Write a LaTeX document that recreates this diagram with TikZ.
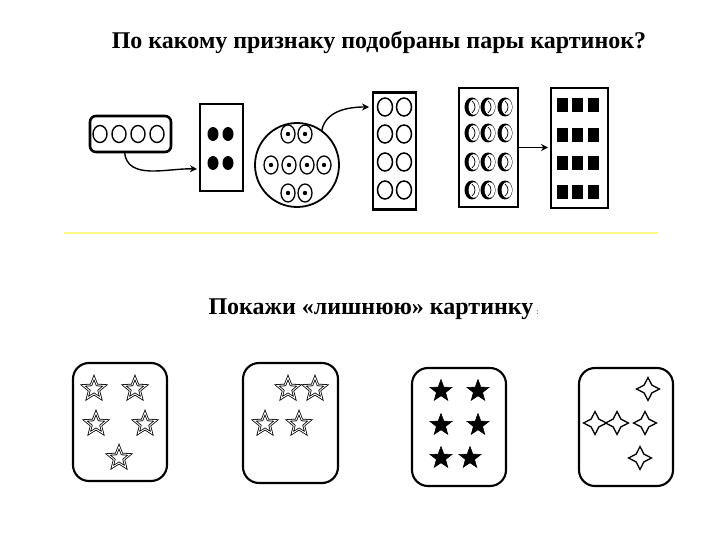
\documentclass[tikz,border=0pt]{standalone}
\usepackage{fontspec}
\setmainfont{Liberation Serif}
\usetikzlibrary{shapes.geometric, arrows.meta, positioning}

\begin{document}
\begin{tikzpicture}[x=1pt, y=-1pt,
  every node/.style = {inner sep=0pt, outer sep=0pt},
  frame/.style = {draw, line width=2.6pt},
  card/.style = {draw, line width=2.1pt, rounded corners=16pt, minimum width=94pt, minimum height=118pt},
  hollowstar/.style = {star, star points=5, star point ratio=2.3, minimum size=23pt, draw, line width=0.8pt, double=white, double distance=0.9pt},
  blackstar/.style = {star, star points=5, star point ratio=2.4, minimum size=23pt, draw, fill, line width=0.6pt},
  sparkle/.style = {star, star points=4, star point ratio=2.1, minimum size=23pt, draw, line width=1.3pt},
  arrow/.style = {line width=1.4pt, -{Stealth[length=7pt, width=7pt]}},
  rule/.style = {line width=2pt, yellow!45!white}]
  \useasboundingbox (0,0) rectangle (720,540);

  \node[anchor=base] (title) at (379,49) {\fontsize{24}{28}\selectfont\bfseries По какому признаку подобраны пары картинок?};

  \node[frame, rounded corners=6pt, minimum width=81pt, minimum height=36pt] (strip) at (130.5,134) {};
  \node[frame, minimum width=43pt, minimum height=87pt] (dots) at (221.5,147.5) {};
  \node[draw, circle, line width=1.8pt, minimum size=84pt] (disc) at (297,165) {};
  \node[frame, minimum width=43pt, minimum height=117pt] (tall) at (394.5,151) {};
  \node[frame, minimum width=59pt, minimum height=119pt] (moons) at (488.5,147.5) {};
  \node[frame, minimum width=57pt, minimum height=120pt] (blocks) at (579.5,148) {};

  \foreach \x in {100,119,138,157}
    \draw[line width=1.4pt] (\x,134) ellipse [x radius=7, y radius=8.5];
  \foreach \x in {213,228}
    \foreach \y in {134,163}
      \fill (\x,\y) ellipse [x radius=5.5, y radius=7];
  \foreach \x/\y in {288/134, 305/134, 271/165, 289/165, 307/165, 324/165, 288/193, 305/193} {
    \draw[line width=1.3pt] (\x,\y) ellipse [x radius=7, y radius=9];
    \fill (\x,\y) circle (2.2);
  }
  \foreach \x in {385,404}
    \foreach \y in {107,134,162,190}
      \draw[line width=1.5pt] (\x,\y) ellipse [x radius=7.5, y radius=9];
  \foreach \x in {472,488,505}
    \foreach \y in {107,133,162,190} {
      \fill (\x,\y) ellipse [x radius=7.5, y radius=9.5];
      \fill[white] (\x+1.8,\y) ellipse [x radius=5.2, y radius=7.8];
      \draw[line width=0.7pt] (\x,\y-6) .. controls (\x+4,\y-3) and (\x+4,\y+3) .. (\x,\y+6);
    }
  \foreach \x in {562,577,593}
    \foreach \y in {105,135,163,192}
      \fill (\x-5.5,\y-7) rectangle (\x+5.5,\y+7);

  \draw[arrow] ([xshift=-6pt]strip.south) to[out=-85, in=178] ([xshift=-3pt, yshift=-21.5pt]dots.west);
  \draw[arrow] (disc.54) to[out=80, in=180] ([xshift=-4pt, yshift=44pt]tall.west);
  \draw[arrow] (moons.east) -- ([xshift=-3pt]moons.east -| blocks.west);

  \draw[rule] (64,233) -- (658,233);

  \node[anchor=base] (task) at (371,314) {\fontsize{24}{28}\selectfont\bfseries Покажи «лишнюю» картинку};
  \node[anchor=base west] (colon) at ([xshift=3pt]task.base east) {\fontsize{8}{9}\selectfont :};

  \node[card] (c1) at (120,422) {};
  \node[card, minimum width=95pt, minimum height=120pt] (c2) at (290.5,423) {};
  \node[card] (c3) at (459,427) {};
  \node[card] (c4) at (626,427) {};

  \foreach \x/\y [count=\i] in {94/389, 135/389, 96/424, 145/424, 119/458}
    \node[hollowstar] (a\i) at (\x,\y) {};
  \foreach \x/\y [count=\i] in {288/389, 315/389, 265/424, 299/424}
    \node[hollowstar] (b\i) at (\x,\y) {};
  \foreach \x/\y [count=\i] in {441/391, 478/391, 441/425, 478/425, 441/458, 470/458}
    \node[blackstar] (s\i) at (\x,\y) {};
  \foreach \x/\y [count=\i] in {648/389, 595/423, 617/423, 645/423, 640/458}
    \node[sparkle] (d\i) at (\x,\y) {};
\end{tikzpicture}
\end{document}
